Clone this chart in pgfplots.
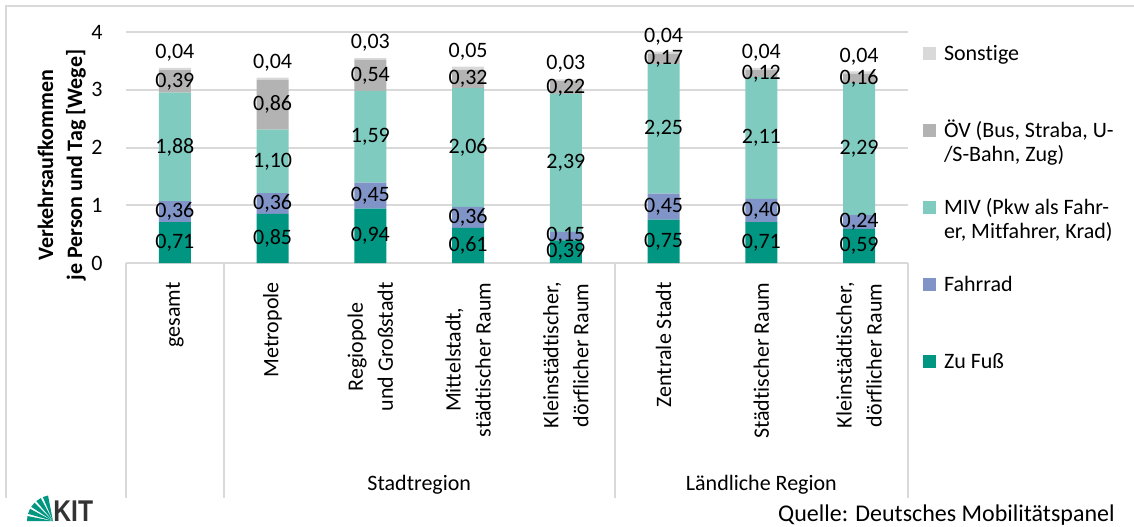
\documentclass[border=0pt]{standalone}
\usepackage{fontspec}
\setmainfont{Carlito}[Ligatures={NoCommon}]
\newfontfamily\logofont{Liberation Sans}
\usepackage{graphicx}
\usepackage{pgfplots}
\pgfplotsset{compat=1.18}
\usepackage{pgfplotstable}
\definecolor{cZu}{HTML}{009682}
\definecolor{cRad}{HTML}{8094C8}
\definecolor{cMIV}{HTML}{80CBBF}
\definecolor{cOEV}{HTML}{B3B3B3}
\definecolor{cSon}{HTML}{D9D9D9}
\definecolor{cGrid}{HTML}{D9D9D9}

\pgfplotstableread{
x a b c d e
0 0.71 0.36 1.88 0.39 0.04
1 0.85 0.36 1.10 0.86 0.04
2 0.94 0.45 1.59 0.54 0.03
3 0.61 0.36 2.06 0.32 0.05
4 0.39 0.15 2.39 0.22 0.03
5 0.75 0.45 2.25 0.17 0.04
6 0.71 0.40 2.11 0.12 0.04
7 0.59 0.24 2.29 0.16 0.04
}\data

\begin{document}
\begin{tikzpicture}
\useasboundingbox (0,0) rectangle (567pt,-263pt);
\draw[cGrid, line width=1pt] (3pt,-249pt) -- (3pt,-3pt) -- (570pt,-3pt);
\begin{axis}[
  at={(63pt,-131.5pt)}, anchor=south west,
  scale only axis, width=391pt, height=115.5pt,
  xmin=-0.5, xmax=7.5, ymin=0, ymax=4,
  ybar stacked, bar width=16pt,
  axis line style={draw=none},
  major tick length=0pt,
  ymajorgrids, grid style={cGrid, line width=1pt},
  ytick={0,1,2,3,4},
  xtick={0,...,7},
  xticklabels={gesamt, Metropole, {Regiopole\\und Großstadt}, {Mittelstadt,\\städtischer Raum}, {Kleinstädtischer,\\dörflicher Raum}, Zentrale Stadt, Städtischer Raum, {Kleinstädtischer,\\dörflicher Raum}},
  xticklabel style={rotate=90, anchor=east, align=center, inner sep=0pt, font=\fontsize{11}{15}\selectfont},
  xticklabel shift=9.5pt,
  yticklabel style={anchor=east, inner sep=0pt, font=\fontsize{11}{13}\selectfont},
  yticklabel shift=11.5pt,
  /pgf/number format/assume math mode=true,
  ylabel={Verkehrsaufkommen\\je Person und Tag [Wege]},
  every axis y label/.style={at={(axis description cs:-0.082,0.424)}, rotate=90, anchor=center, align=center, font=\bfseries\fontsize{11}{14.5}\selectfont},
  clip=false,
  legend style={at={(axis description cs:1.0192,0.946)}, anchor=north west, draw=none, fill=none, inner sep=0pt, outer sep=0pt, row sep=0pt, column sep=4pt, font=\fontsize{11}{12}\selectfont, cells={anchor=base west}, nodes={inner sep=0pt, text height=8pt, text depth=30.5pt, anchor=base west}},
  reverse legend,
  legend image code/.code={\fill[#1] (0pt,0pt) rectangle (6.5pt,6.5pt);},
  nodes near coords={\pgfmathprintnumber[fixed,fixed zerofill,precision=2,use comma]{\pgfplotspointmeta}},
  nodes near coords style={font=\fontsize{11}{13}\selectfont, text=black, anchor=center},
]
\addplot[fill=cZu, draw=none, point meta=explicit] table[x=x,y=a,meta=a]{\data};
\addlegendentry{Zu Fuß}
\addplot[fill=cRad, draw=none, point meta=explicit] table[x=x,y=b,meta=b]{\data};
\addlegendentry{Fahrrad}
\addplot[fill=cMIV, draw=none, point meta=explicit] table[x=x,y=c,meta=c]{\data};
\addlegendentry{\parbox[t]{120pt}{\raggedright MIV (Pkw als Fahr-\\er, Mitfahrer, Krad)}}
\addplot[fill=cOEV, draw=none, point meta=explicit] table[x=x,y=d,meta=d]{\data};
\addlegendentry{\parbox[t]{120pt}{\raggedright ÖV (Bus, Straba, U-\\/S-Bahn, Zug)}}
\addplot[fill=cSon, draw=none, point meta=explicit, every node near coord/.append style={yshift=8pt}] table[x=x,y=e,meta=e]{\data};
\addlegendentry{Sonstige}

\draw[cGrid, line width=1pt] (axis cs:-0.5,0) -- ([yshift=-117.5pt]axis cs:-0.5,0);
\draw[cGrid, line width=1pt] (axis cs:0.5,0) -- ([yshift=-117.5pt]axis cs:0.5,0);
\draw[cGrid, line width=1pt] (axis cs:4.5,0) -- ([yshift=-117.5pt]axis cs:4.5,0);
\draw[cGrid, line width=1pt] (axis cs:7.5,0) -- ([yshift=-117.5pt]axis cs:7.5,0);
\node[anchor=base, font=\fontsize{11}{13}\selectfont] at ([yshift=-113.5pt]axis cs:2.5,0) {Stadtregion};
\node[anchor=base, font=\fontsize{11}{13}\selectfont] at ([yshift=-113.5pt]axis cs:6,0) {Ländliche Region};
\end{axis}
\node[anchor=base east, inner sep=0pt, font=\fontsize{12}{14}\selectfont] at (557.5pt,-260.5pt) {Quelle: Deutsches Mobilitätspanel};
% KIT logo
\foreach \a/\b in {180/169, 164/152, 147/135, 130/118, 113/101}{
  \fill[cZu] (26.5pt,-260.5pt) -- ++(\a:13pt) arc[start angle=\a, end angle=\b, radius=13pt] -- cycle;
}
\node[anchor=base west, inner sep=0pt, font=\logofont\bfseries\fontsize{15}{15}\selectfont, text=black!80] at (26.5pt,-260.5pt) {\scalebox{0.82}[1]{KIT}};
\end{tikzpicture}
\end{document}
